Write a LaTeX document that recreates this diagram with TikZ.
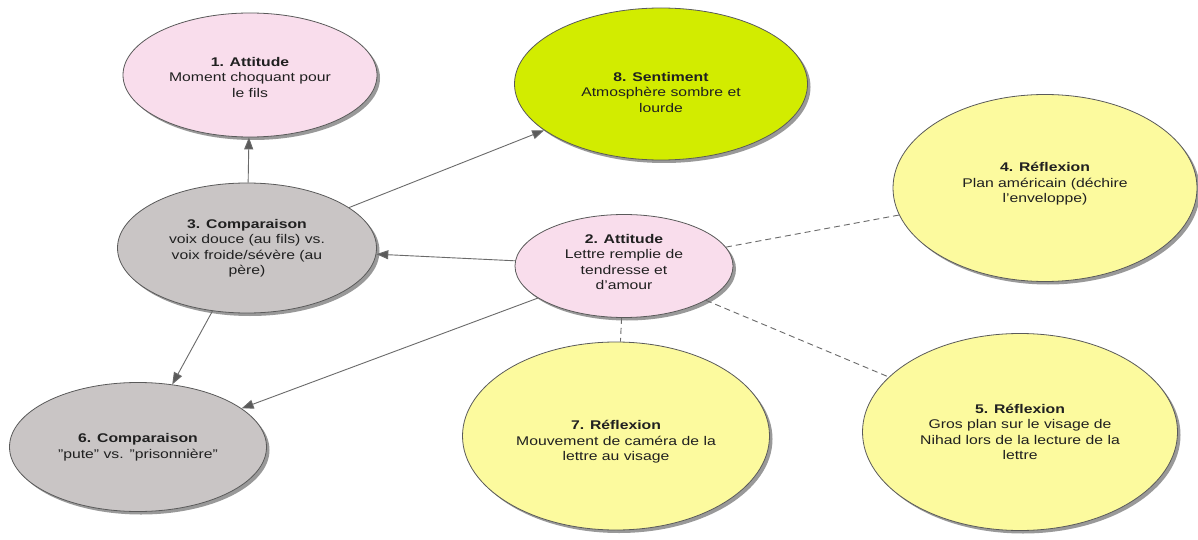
\documentclass[tikz,border=0pt]{standalone}
\usepackage{fontspec}
\setmainfont{Liberation Sans}[FakeStretch=1.25]
\usetikzlibrary{shapes.geometric,shadows,arrows.meta}
\definecolor{pinkc}{HTML}{F9DDEC}
\definecolor{greenc}{HTML}{D2EC00}
\definecolor{greyc}{HTML}{C9C5C5}
\definecolor{yellowc}{HTML}{FCFA9E}
\definecolor{edgec}{HTML}{5A5A5A}
\definecolor{linec}{HTML}{6A6A6A}
\definecolor{txtc}{HTML}{202020}
\begin{document}
\begin{tikzpicture}[x=1pt,y=-1pt,
  bubble/.style={ellipse, draw=edgec, line width=0.8pt, inner sep=0pt,
    drop shadow={shadow xshift=3pt,shadow yshift=-3pt,fill=black,opacity=0.4}},
  txt/.style={align=center, text=txtc, inner sep=0pt, font=\fontsize{12.6}{15.5}\selectfont},
  conn/.style={draw=linec, line width=0.9pt},
  arr/.style={conn, -{Triangle[length=12pt,width=9pt,fill=edgec]}},
  dashlink/.style={conn, dash pattern=on 6pt off 4pt}
]
\fill[white] (0,0) rectangle (1198,540);
\useasboundingbox (0,0) rectangle (1198,540);

\node[bubble, fill=pinkc,   minimum width=254pt, minimum height=124pt] (e1) at (250,75) {};
\node[bubble, fill=greenc,  minimum width=293pt, minimum height=152pt] (e8) at (661,84) {};
\node[bubble, fill=greyc,   minimum width=259pt, minimum height=130pt] (e3) at (247,248) {};
\node[bubble, fill=pinkc,   minimum width=218pt, minimum height=103pt] (e2) at (624,266) {};
\node[bubble, fill=yellowc, minimum width=304pt, minimum height=187pt] (e4) at (1045,188) {};
\node[bubble, fill=greyc,   minimum width=257pt, minimum height=129pt] (e6) at (138,447) {};
\node[bubble, fill=yellowc, minimum width=307pt, minimum height=188pt] (e7) at (616,436) {};
\node[bubble, fill=yellowc, minimum width=315pt, minimum height=197pt] (e5) at (1020,432) {};

\node[txt] (t1) at (250,77) {\textbf{1. Attitude}\\Moment choquant pour\\le fils};
\node[txt] (t8) at (661,92) {\textbf{8. Sentiment}\\Atmosphère sombre et\\lourde};
\node[txt] (t3) at (247,248) {\textbf{3. Comparaison}\\voix douce (au fils) vs.\\voix froide/sévère (au\\père)};
\node[txt] (t2) at (624,262) {\textbf{2. Attitude}\\Lettre remplie de\\tendresse et\\d'amour};
\node[txt] (t4) at (1045,184) {\textbf{4. Réflexion}\\Plan américain (déchire\\l'enveloppe)};
\node[txt] (t6) at (138,447) {\textbf{6. Comparaison}\\"pute" vs. "prisonnière"};
\node[txt] (t7) at (616,442) {\textbf{7. Réflexion}\\Mouvement de caméra de la\\lettre au visage};
\node[txt] (t5) at (1020,432) {\textbf{5. Réflexion}\\Gros plan sur le visage de\\Nihad lors de la lecture de la\\lettre};

\draw[arr] (e3) -- (e1);
\draw[arr] (e3) -- (e8);
\draw[arr] (e2) -- (e3);
\draw[arr] (e3) -- (e6);
\draw[arr] (e2) -- (e6);
\draw[dashlink] (e2) -- (e4);
\draw[dashlink] (e2) -- (e7);
\draw[dashlink] (e2) -- (e5);
\end{tikzpicture}
\end{document}
